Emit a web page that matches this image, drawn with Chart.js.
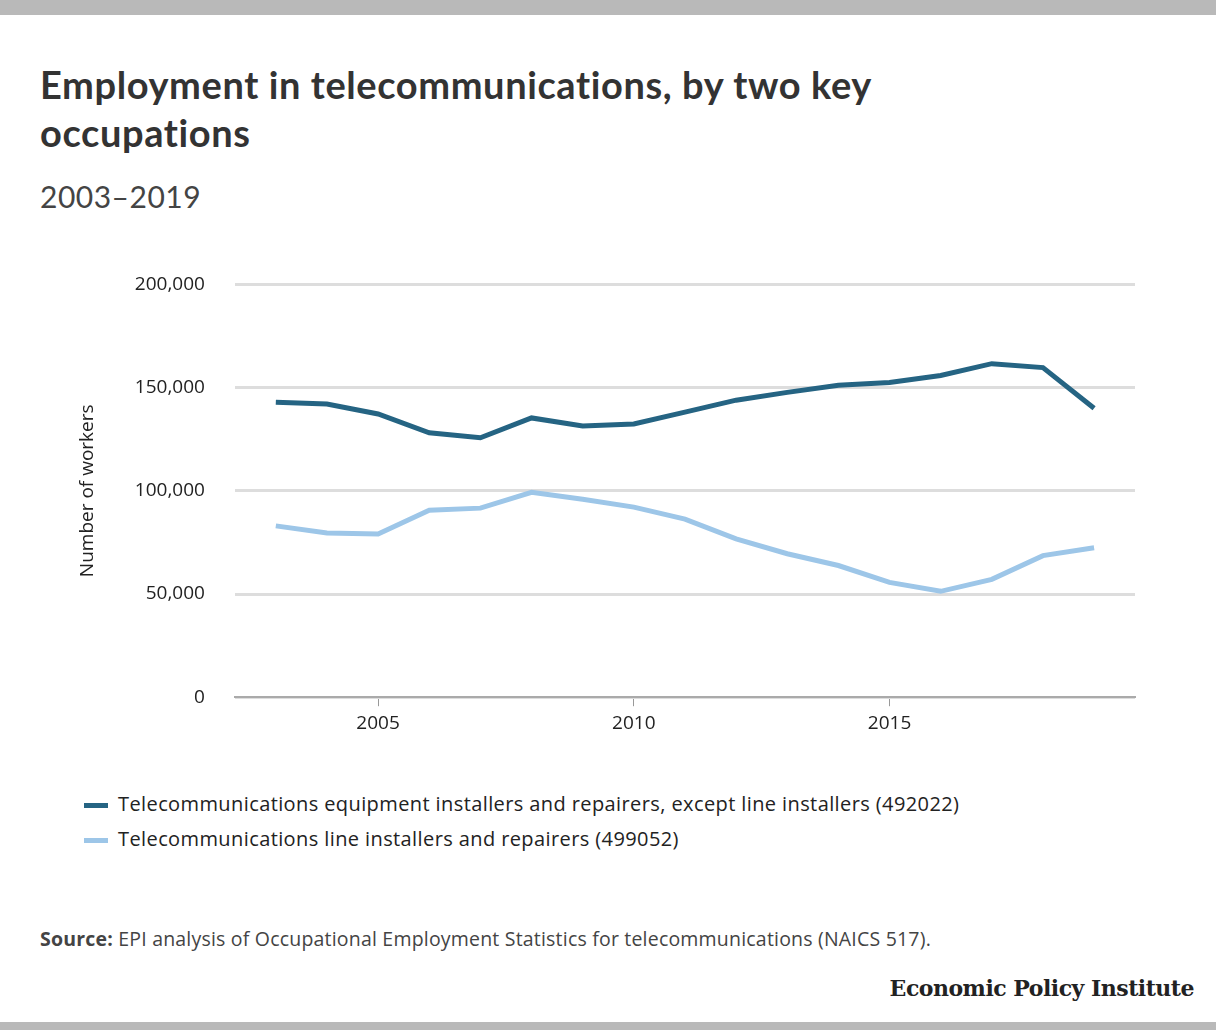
<!DOCTYPE html>
<html><head><meta charset="utf-8">
<script src="https://cdn.jsdelivr.net/npm/chart.js@4"></script>
<style>
body{margin:0;width:1216px;height:1030px;background:#fff;font-family:"Open Sans",Lato,sans-serif;color:#333;position:relative;overflow:hidden}
.bar{position:absolute;left:0;width:1216px;background:#b9b9b9}
h1{position:absolute;left:40px;top:60px;margin:0;font-family:Lato,sans-serif;font-size:38px;line-height:48px;font-weight:700;color:#333;width:990px;letter-spacing:0.6px}
.sub{position:absolute;left:40px;top:178px;font-family:Lato,sans-serif;font-size:30px;color:#444;letter-spacing:0.5px}
#wrap{position:absolute;left:60px;top:243px;width:1090px;height:498px}
.leg{position:absolute;left:84px;font-size:20px;color:#222;letter-spacing:0.4px}
.leg span{display:inline-block;width:24px;height:5px;vertical-align:middle;margin-right:10px}
.src{position:absolute;left:40px;top:925px;font-size:19.5px;color:#444;letter-spacing:0.2px}
.logo{position:absolute;right:22px;top:975px;font-family:"DejaVu Serif","Liberation Serif",serif;font-weight:700;font-size:22px;color:#222;letter-spacing:-0.5px}
</style></head><body>
<div class="bar" style="top:0;height:15px"></div>
<div class="bar" style="top:1022px;height:8px"></div>
<h1>Employment in telecommunications, by two key occupations</h1>
<div class="sub">2003–2019</div>
<div id="wrap"><canvas id="c"></canvas></div>
<div class="leg" style="top:790px"><span style="background:#256483"></span>Telecommunications equipment installers and repairers, except line installers (492022)</div>
<div class="leg" style="top:825px"><span style="background:#9dc6e8"></span>Telecommunications line installers and repairers (499052)</div>
<div class="src"><b>Source:</b> EPI analysis of Occupational Employment Statistics for telecommunications (NAICS 517).</div>
<div class="logo">Economic Policy Institute</div>
<script>
const years=[2003,2004,2005,2006,2007,2008,2009,2010,2011,2012,2013,2014,2015,2016,2017,2018,2019];
const equipment=[142900,142000,137200,128100,125700,135300,131400,132400,138100,143900,147700,151100,152500,155900,161600,159700,140000];
const lineInst=[83000,79600,79100,90600,91600,99300,95900,92100,86300,76700,69500,63800,55600,51300,57100,68600,72400];
const xTicks=[2005,2010,2015];
const pts=a=>a.map((v,i)=>({x:years[i],y:v}));
new Chart(document.getElementById('c'),{type:'line',
data:{datasets:[
{data:pts(equipment),borderColor:'#256483',borderWidth:5,pointRadius:0,tension:0},
{data:pts(lineInst),borderColor:'#9dc6e8',borderWidth:5,pointRadius:0,tension:0}]},
options:{responsive:true,maintainAspectRatio:false,animation:false,
plugins:{legend:{display:false},tooltip:{enabled:false}},
layout:{padding:{right:15,left:12,top:25}},
scales:{
x:{type:'linear',min:2002.2,max:2019.8,afterBuildTicks:s=>{s.ticks=xTicks.map(v=>({value:v}))},
 grid:{display:true,drawOnChartArea:false,drawTicks:true,tickLength:9,color:'#999'},border:{color:'#aaa',width:2},
 ticks:{color:'#222',font:{family:'Open Sans',size:19},padding:6,callback:v=>String(v)}},
y:{min:0,max:200000,afterBuildTicks:s=>{s.ticks=[0,50000,100000,150000,200000].map(v=>({value:v}))},
 grid:{color:'#ddd',lineWidth:3,drawTicks:false},border:{display:false},
 ticks:{color:'#222',font:{family:'Open Sans',size:19},padding:30,callback:v=>v.toLocaleString('en-US')},
 title:{display:true,text:'Number of workers',color:'#222',font:{family:'Open Sans',size:19},padding:{bottom:6}}}
}}
});
</script>
</body></html>
